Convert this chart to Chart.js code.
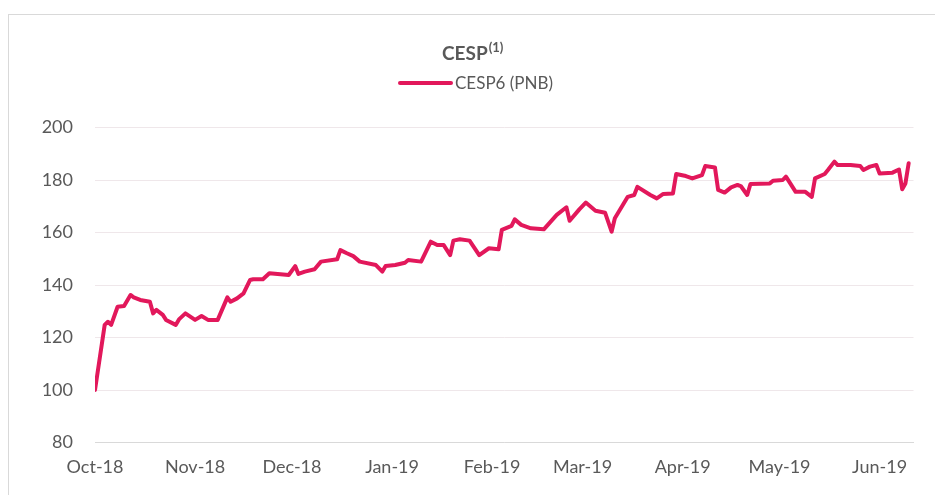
<!DOCTYPE html>
<html>
<head>
<meta charset="utf-8">
<script src="https://cdn.jsdelivr.net/npm/chart.js@4.4.1/dist/chart.umd.min.js"></script>
<style>
  html, body { margin:0; padding:0; background:#fff; overflow:hidden; }
  #frame { position:absolute; left:8px; top:14px; width:1000px; height:600px; border:1px solid #d9d9d9; }
  #cespChart { position:absolute; left:0; top:0; }
</style>
</head>
<body>
<div id="frame"></div>
<canvas id="cespChart" width="935" height="495"></canvas>
<script>
// days counted from 1 Oct 2018
const dayOffsets = [0,3,4,5,7,9,11,12,14,17,18,19,21,22,25,26,28,31,33,35,38,41,42,44,46,48,49,52,54,60,62,63,65,68,70,75,76,78,80,82,87,89,90,93,96,97,101,104,106,108,110,111,113,116,119,122,125,126,129,130,132,135,139,143,146,147,150,152,155,158,160,161,165,167,168,172,174,176,179,180,183,185,188,189,192,193,195,197,199,200,202,203,209,210,213,214,217,220,222,223,226,227,229,230,234,237,238,240,242,243,247,249,250,251,252];
const cesp6 = [100,124.8,126,124.8,131.7,132,136.2,135.3,134.3,133.6,129.2,130.5,128.6,126.7,124.8,126.9,129.2,126.7,128.2,126.7,126.7,135.3,133.6,134.9,136.8,141.9,142.2,142.2,144.5,143.8,147.2,144.2,145.1,146,148.9,149.8,153.3,152.1,151,148.9,147.6,145.1,147.2,147.6,148.5,149.5,148.9,156.5,155.2,155.2,151.4,156.9,157.4,156.9,151.4,154,153.6,161,162.5,165,162.9,161.6,161.2,166.7,169.6,164.5,168.8,171.4,168.3,167.5,160.3,165.4,173.6,174.3,177.4,174.3,173,174.7,174.9,182.3,181.5,180.6,181.9,185.3,184.8,176.2,175.2,177.2,178.1,177.7,174.3,178.5,178.7,179.7,180,181.3,175.5,175.5,173.6,180.6,182.3,183.8,187,185.7,185.7,185.3,183.8,185.1,185.7,182.5,182.8,184,176.5,178.7,186.4];
const monthStarts = [0,31,61,92,123,151,182,212,243];
const monthLabels = ['Oct-18','Nov-18','Dec-18','Jan-19','Feb-19','Mar-19','Apr-19','May-19','Jun-19'];
const yTicks = [80,100,120,140,160,180,200];

const seriesName = 'CESP6 (PNB)';
const lineColor = '#e2185b';
const textColor = '#595959';
const FONT = 'Lato';

// title with superscript + legend sample, drawn above the plot
const headerPlugin = {
  id: 'header',
  afterDraw(chart) {
    const ctx = chart.ctx;
    ctx.save();
    ctx.fillStyle = textColor;
    ctx.textBaseline = 'alphabetic';
    ctx.textAlign = 'left';
    ctx.font = 'bold 19px ' + FONT;
    ctx.fillText('CESP', 442, 60);
    const w = ctx.measureText('CESP').width;
    ctx.font = 'bold 13px ' + FONT;
    ctx.fillText('(1)', 442 + w + 1, 52);

    ctx.strokeStyle = lineColor;
    ctx.lineWidth = 4;
    ctx.lineCap = 'round';
    ctx.beginPath();
    ctx.moveTo(400, 83);
    ctx.lineTo(451, 83);
    ctx.stroke();
    ctx.font = '17px ' + FONT;
    ctx.textBaseline = 'middle';
    ctx.fillText(seriesName, 455, 84);
    ctx.restore();
  }
};

new Chart(document.getElementById('cespChart'), {
  type: 'line',
  data: {
    datasets: [{
      label: seriesName,
      data: dayOffsets.map((d, i) => ({x: d, y: cesp6[i]})),
      borderColor: lineColor,
      backgroundColor: lineColor,
      borderWidth: 4,
      borderJoinStyle: 'round',
      borderCapStyle: 'round',
      pointRadius: 0,
      tension: 0,
      fill: false
    }]
  },
  options: {
    responsive: false,
    animation: false,
    devicePixelRatio: 1,
    layout: { padding: { top: 127.5, left: 0, right: 21.5, bottom: 0 } },
    plugins: { legend: { display: false }, title: { display: false }, tooltip: { enabled: false } },
    scales: {
      x: {
        type: 'linear',
        min: 0,
        max: 253.5,
        afterBuildTicks: s => { s.ticks = monthStarts.map(v => ({value: v})); },
        afterFit: s => { s.height = 52.5; },
        grid: { display: false, drawTicks: false },
        border: { display: true, color: '#d9d9d9', width: 1 },
        ticks: {
          autoSkip: false,
          maxRotation: 0,
          padding: 14,
          color: textColor,
          font: { family: FONT, size: 18 },
          callback: v => monthLabels[monthStarts.indexOf(v)]
        }
      },
      y: {
        min: 80,
        max: 200,
        afterBuildTicks: s => { s.ticks = yTicks.map(v => ({value: v})); },
        afterFit: s => { s.width = 95; },
        grid: { color: '#efe7ea', lineWidth: 1, drawTicks: false },
        border: { display: false },
        ticks: {
          padding: 22,
          color: textColor,
          font: { family: FONT, size: 18 }
        }
      }
    }
  },
  plugins: [headerPlugin]
});
</script>
</body>
</html>
